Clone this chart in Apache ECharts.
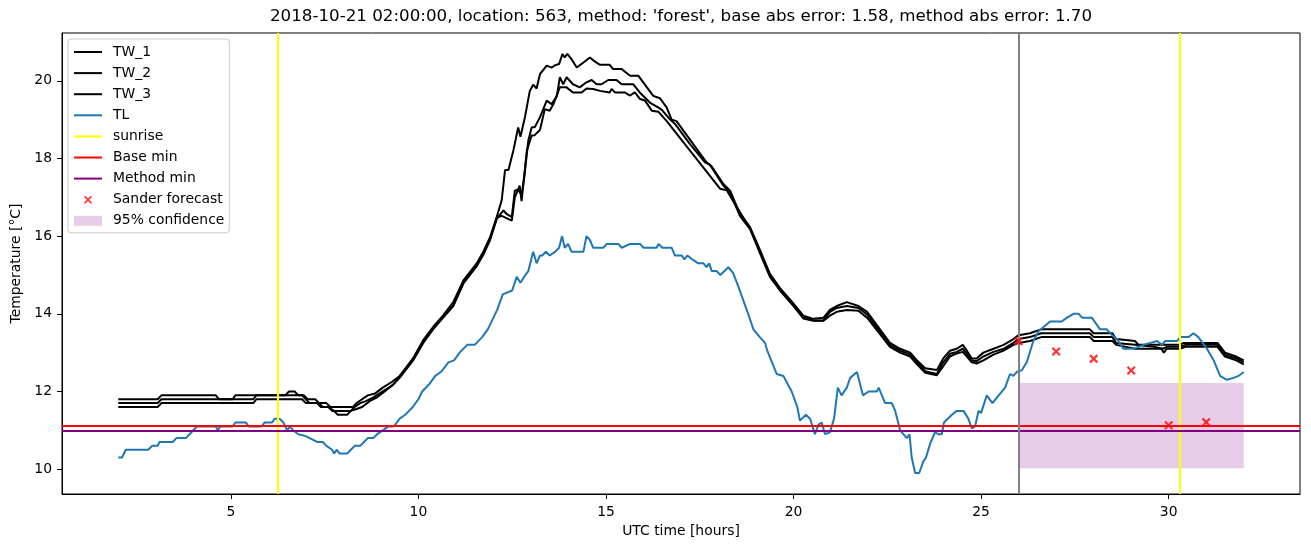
<!DOCTYPE html>
<html><head><meta charset="utf-8">
<script src="https://cdn.jsdelivr.net/npm/echarts@6/dist/echarts.min.js"></script>
<style>html,body{margin:0;padding:0;background:#fff}#c{width:1311px;height:547px}</style>
</head><body><div id="c"></div>
<script>
const TITLE = "2018-10-21 02:00:00, location: 563, method: 'forest', base abs error: 1.58, method abs error: 1.70";
const X_NAME = "UTC time [hours]";
const Y_NAME = "Temperature [°C]";
const X_TICKS = [5, 10, 15, 20, 25, 30];
const Y_TICKS = [10, 12, 14, 16, 18, 20];

const TW_1 = [[2.0,11.8],[3.05,11.8],[3.15,11.9],[4.6,11.9],[4.68,11.8],[5.05,11.8],[5.12,11.9],[6.45,11.9],[6.55,12.0],[6.7,12.0],[6.8,11.9],[6.95,11.9],[7.05,11.8],[7.25,11.8],[7.35,11.7],[7.55,11.7],[7.65,11.6],[8.25,11.6],[8.35,11.7],[8.5,11.8],[8.65,11.9],[8.85,11.95],[9.05,12.1],[9.3,12.25],[9.5,12.4],[9.7,12.65],[9.86,12.85],[10.13,13.32],[10.39,13.66],[10.66,13.96],[10.93,14.3],[11.2,14.86],[11.55,15.29],[11.73,15.6],[11.91,15.97],[12.09,16.5],[12.22,16.92],[12.31,17.7],[12.4,17.7],[12.53,18.2],[12.66,18.8],[12.72,18.56],[12.84,19.06],[12.97,19.74],[13.06,19.9],[13.15,19.8],[13.24,20.17],[13.42,20.39],[13.55,20.34],[13.64,20.4],[13.75,20.43],[13.84,20.69],[13.9,20.6],[13.97,20.69],[14.08,20.56],[14.22,20.34],[14.4,20.47],[14.57,20.6],[14.7,20.5],[14.84,20.41],[15.1,20.41],[15.19,20.3],[15.42,20.3],[15.55,20.2],[15.64,20.13],[15.86,20.13],[16.26,19.61],[16.44,19.55],[16.62,19.31],[16.75,19.0],[16.88,18.96],[17.68,17.9],[17.82,17.79],[18.13,17.34],[18.31,17.17],[18.57,16.57],[18.84,16.23],[19.11,15.63],[19.37,15.03],[19.64,14.66],[20.0,14.26],[20.26,13.95],[20.53,13.87],[20.8,13.9],[20.97,14.1],[21.15,14.2],[21.42,14.3],[21.73,14.2],[21.96,14.05],[22.57,13.25],[22.84,13.1],[23.11,13.0],[23.29,12.8],[23.51,12.6],[23.82,12.55],[23.99,12.85],[24.17,13.05],[24.35,13.1],[24.51,13.2],[24.62,13.05],[24.75,12.85],[24.88,12.85],[25.06,13.0],[25.33,13.1],[25.6,13.2],[25.86,13.35],[26.0,13.45],[26.3,13.5],[26.6,13.6],[27.9,13.6],[28.0,13.5],[28.5,13.5],[28.6,13.35],[29.1,13.3],[29.2,13.2],[30.3,13.2],[30.4,13.25],[31.3,13.25],[31.5,13.0],[31.8,12.9],[32.0,12.8]];

const TW_2 = [[2.0,11.7],[3.05,11.7],[3.15,11.8],[5.6,11.8],[5.68,11.9],[6.9,11.9],[7.0,11.8],[7.1,11.7],[7.3,11.7],[7.4,11.6],[7.6,11.6],[7.7,11.5],[8.2,11.5],[8.3,11.6],[8.45,11.7],[8.6,11.75],[8.8,11.85],[9.05,12.0],[9.3,12.15],[9.5,12.35],[9.7,12.6],[9.86,12.8],[10.13,13.25],[10.39,13.6],[10.66,13.9],[10.93,14.2],[11.2,14.78],[11.55,15.22],[11.73,15.52],[11.91,15.9],[12.09,16.45],[12.27,16.66],[12.35,16.57],[12.49,16.49],[12.57,17.17],[12.66,17.2],[12.75,17.05],[12.82,17.5],[12.93,18.46],[13.02,18.8],[13.1,18.8],[13.24,19.06],[13.42,19.49],[13.55,19.4],[13.69,19.6],[13.77,20.09],[13.86,19.91],[13.95,20.09],[14.12,19.91],[14.3,19.83],[14.48,19.96],[14.62,20.02],[14.75,19.91],[14.88,19.91],[15.06,20.02],[15.28,20.02],[15.42,19.91],[15.73,19.91],[15.9,19.7],[16.17,19.44],[16.4,19.31],[16.49,19.25],[16.71,19.0],[16.84,18.89],[17.24,18.37],[17.64,17.9],[17.77,17.84],[18.13,17.3],[18.31,17.12],[18.57,16.52],[18.84,16.18],[19.11,15.58],[19.37,14.98],[19.64,14.62],[20.0,14.22],[20.26,13.9],[20.53,13.83],[20.8,13.83],[20.97,14.05],[21.15,14.15],[21.42,14.2],[21.73,14.15],[21.96,13.98],[22.57,13.2],[22.84,13.05],[23.11,12.95],[23.29,12.75],[23.51,12.52],[23.82,12.45],[23.99,12.75],[24.17,12.97],[24.35,13.02],[24.51,13.1],[24.62,12.97],[24.75,12.8],[24.88,12.78],[25.06,12.9],[25.33,13.02],[25.6,13.1],[25.86,13.25],[26.0,13.35],[26.3,13.4],[26.6,13.5],[27.9,13.5],[28.0,13.4],[28.5,13.4],[28.6,13.25],[29.1,13.2],[29.6,13.15],[29.85,13.1],[29.95,13.15],[30.3,13.15],[30.45,13.2],[31.3,13.2],[31.5,12.95],[31.8,12.85],[32.0,12.75]];

const TW_3 = [[2.0,11.6],[3.05,11.6],[3.15,11.7],[5.6,11.7],[5.68,11.8],[6.9,11.8],[7.0,11.7],[7.35,11.7],[7.45,11.6],[7.6,11.6],[7.75,11.5],[7.85,11.4],[8.1,11.4],[8.2,11.5],[8.35,11.55],[8.5,11.6],[8.7,11.75],[8.9,11.85],[9.1,12.0],[9.35,12.2],[9.6,12.5],[9.86,12.85],[10.13,13.3],[10.39,13.62],[10.66,13.92],[10.93,14.22],[11.2,14.82],[11.55,15.25],[11.73,15.55],[11.91,15.93],[12.09,16.47],[12.22,16.52],[12.49,16.4],[12.57,17.0],[12.7,17.3],[12.75,16.9],[12.89,18.2],[13.02,18.59],[13.1,18.6],[13.24,18.73],[13.37,19.27],[13.5,19.23],[13.6,19.4],[13.77,19.83],[13.95,19.83],[14.12,19.7],[14.35,19.7],[14.48,19.8],[14.66,19.79],[14.84,19.74],[15.1,19.7],[15.15,19.79],[15.24,19.7],[15.5,19.7],[15.64,19.62],[15.77,19.7],[15.91,19.53],[16.04,19.49],[16.22,19.23],[16.4,19.2],[16.62,18.96],[17.24,18.2],[18.04,17.22],[18.22,17.18],[18.49,16.74],[18.84,16.2],[19.11,15.55],[19.37,14.95],[19.64,14.6],[20.0,14.2],[20.26,13.88],[20.53,13.82],[20.8,13.82],[20.97,13.95],[21.15,14.05],[21.42,14.1],[21.73,14.08],[21.96,13.9],[22.57,13.15],[22.84,13.0],[23.11,12.9],[23.29,12.7],[23.51,12.48],[23.82,12.42],[23.99,12.65],[24.17,12.9],[24.35,12.98],[24.51,13.02],[24.62,12.9],[24.75,12.75],[24.88,12.72],[25.06,12.8],[25.33,12.95],[25.6,13.05],[25.86,13.2],[26.0,13.25],[26.3,13.3],[26.6,13.4],[27.9,13.4],[28.0,13.3],[28.5,13.3],[28.6,13.2],[29.1,13.1],[29.8,13.1],[29.87,13.0],[29.95,13.1],[30.3,13.1],[30.45,13.15],[31.3,13.15],[31.5,12.9],[31.8,12.8],[32.0,12.7]];

const TL = [[2.0,10.3],[2.1,10.3],[2.2,10.5],[2.8,10.5],[2.9,10.6],[3.05,10.6],[3.1,10.7],[3.45,10.7],[3.55,10.8],[3.8,10.8],[3.9,10.9],[4.0,11.0],[4.1,11.1],[4.6,11.1],[4.65,11.0],[4.72,11.1],[5.05,11.1],[5.12,11.2],[5.4,11.2],[5.48,11.1],[5.82,11.1],[5.9,11.2],[6.1,11.2],[6.17,11.3],[6.3,11.3],[6.4,11.2],[6.5,11.0],[6.58,11.1],[6.66,11.0],[6.8,10.9],[7.0,10.85],[7.1,10.8],[7.3,10.7],[7.45,10.7],[7.55,10.6],[7.7,10.5],[7.75,10.4],[7.82,10.5],[7.9,10.4],[8.1,10.4],[8.2,10.5],[8.3,10.6],[8.45,10.6],[8.55,10.7],[8.65,10.8],[8.8,10.8],[8.9,10.9],[9.05,11.0],[9.2,11.1],[9.35,11.1],[9.5,11.3],[9.65,11.4],[9.75,11.5],[9.85,11.6],[10.0,11.8],[10.1,12.0],[10.3,12.2],[10.45,12.4],[10.6,12.5],[10.8,12.75],[10.95,12.8],[11.1,13.0],[11.3,13.2],[11.5,13.2],[11.7,13.4],[11.85,13.6],[12.0,13.9],[12.1,14.1],[12.25,14.5],[12.5,14.6],[12.62,14.95],[12.72,14.8],[12.85,15.0],[12.93,15.1],[13.06,15.6],[13.15,15.3],[13.24,15.5],[13.3,15.5],[13.4,15.6],[13.5,15.5],[13.65,15.6],[13.75,15.7],[13.83,16.0],[13.9,15.7],[13.99,15.8],[14.08,15.6],[14.4,15.6],[14.48,16.0],[14.57,15.9],[14.66,15.7],[14.93,15.7],[15.02,15.8],[15.33,15.8],[15.42,15.7],[15.64,15.8],[15.91,15.8],[16.0,15.7],[16.35,15.7],[16.4,15.8],[16.5,15.7],[16.75,15.7],[16.84,15.5],[17.02,15.5],[17.09,15.4],[17.17,15.5],[17.3,15.4],[17.46,15.3],[17.6,15.3],[17.68,15.2],[17.75,15.3],[17.82,15.1],[17.95,15.1],[18.05,15.0],[18.26,15.2],[18.39,15.05],[18.53,14.7],[18.79,14.0],[18.93,13.6],[19.1,13.4],[19.24,13.25],[19.3,13.05],[19.55,12.45],[19.73,12.4],[19.95,12.0],[20.1,11.6],[20.17,11.25],[20.33,11.4],[20.44,11.3],[20.57,10.9],[20.67,11.15],[20.75,11.2],[20.84,10.9],[20.97,10.95],[21.08,11.3],[21.18,12.1],[21.28,11.9],[21.42,12.1],[21.51,12.35],[21.69,12.5],[21.85,11.9],[22.0,12.0],[22.22,12.0],[22.27,12.1],[22.44,11.7],[22.62,11.7],[22.71,11.5],[22.84,11.0],[23.02,10.8],[23.09,10.9],[23.15,10.3],[23.24,9.9],[23.35,9.9],[23.46,10.2],[23.53,10.3],[23.64,10.65],[23.77,10.95],[23.86,10.9],[23.95,10.9],[24.01,11.2],[24.22,11.4],[24.35,11.5],[24.53,11.5],[24.66,11.3],[24.75,11.05],[24.84,11.1],[24.93,11.5],[25.0,11.45],[25.15,11.9],[25.3,11.7],[25.64,12.1],[25.69,12.1],[25.77,12.45],[25.86,12.4],[25.95,12.5],[26.09,12.55],[26.22,12.76],[26.39,13.3],[26.53,13.55],[26.84,13.8],[27.15,13.8],[27.29,13.9],[27.46,14.0],[27.6,14.0],[27.69,13.9],[27.95,13.9],[28.17,13.6],[28.35,13.6],[28.49,13.45],[28.62,13.35],[28.79,13.1],[29.06,13.1],[29.33,13.2],[29.69,13.3],[29.82,13.2],[29.91,13.3],[30.22,13.3],[30.31,13.4],[30.53,13.4],[30.66,13.5],[30.79,13.4],[31.02,13.1],[31.2,12.8],[31.37,12.4],[31.55,12.3],[31.73,12.35],[31.86,12.4],[32.0,12.5]];

const SUNRISE = [6.26, 30.3];
const BASE_MIN = 11.12;
const METHOD_MIN = 11.0;
const FORECAST_START = 26;
const SANDER = [[26,13.29],[27,13.03],[28,12.84],[29,12.54],[30,11.13],[31,11.21]];
const CONF_X = [26, 32];
const CONF_Y = [10.02, 12.22];

const FONT = 'DejaVu Sans';
const LINE_ICON = 'path://M0,0 M28,10 M0,4 L28,4 L28,6 L0,6 Z';
const X_ICON = 'path://M0,0 M28,10 M10,2.2 L11.2,1 L14,3.8 L16.8,1 L18,2.2 L15.2,5 L18,7.8 L16.8,9 L14,6.2 L11.2,9 L10,7.8 L12.8,5 Z';
const RECT_ICON = 'path://M0,0 L28,0 L28,10 L0,10 Z';
const X_SYMBOL = 'path://M0,1.2 L1.2,0 L3.5,2.3 L5.8,0 L7,1.2 L4.7,3.5 L7,5.8 L5.8,7 L3.5,4.7 L1.2,7 L0,5.8 L2.3,3.5 Z';

const chart = echarts.init(document.getElementById('c'), null, {renderer: 'canvas'});

function vline(x, color) { return {xAxis: x, lineStyle: {color: color, width: 2, type: 'solid'}}; }
function hline(y, color) { return {yAxis: y, lineStyle: {color: color, width: 2, type: 'solid'}}; }
const mlBase = {symbol: ['none','none'], silent: true, label: {show: false}, animation: false};

const option = {
  animation: false,
  backgroundColor: '#fff',
  textStyle: {fontFamily: FONT},
  grid: {left: 62, right: 11, top: 33, bottom: 53, show: true, borderColor: '#000', borderWidth: 1,
         backgroundColor: 'transparent', containLabel: false, outerBoundsMode: 'none'},
  graphic: [{type: 'text', x: 681, y: 17, style: {text: TITLE, fontFamily: FONT, fontSize: 16.7, fill: '#000', textAlign: 'center', textVerticalAlign: 'middle'}}],
  xAxis: {
    type: 'value', min: 0.5, max: 33.5,
    name: X_NAME, nameLocation: 'middle', nameGap: 28,
    nameTextStyle: {fontFamily: FONT, fontSize: 13.9, color: '#000'},
    axisLine: {show: true, onZero: false, lineStyle: {color: '#000', width: 1}},
    axisTick: {show: true, length: 5, lineStyle: {color: '#000'}, customValues: X_TICKS},
    axisLabel: {fontFamily: FONT, fontSize: 13.9, color: '#000', margin: 11, customValues: X_TICKS},
    splitLine: {show: false}
  },
  yAxis: {
    type: 'value', min: 9.36, max: 21.23,
    name: Y_NAME, nameLocation: 'middle', nameGap: 37, nameRotate: 90,
    nameTextStyle: {fontFamily: FONT, fontSize: 13.9, color: '#000'},
    axisLine: {show: true, onZero: false, lineStyle: {color: '#000', width: 1}},
    axisTick: {show: true, length: 5, lineStyle: {color: '#000'}, customValues: Y_TICKS},
    axisLabel: {fontFamily: FONT, fontSize: 13.9, color: '#000', margin: 10, customValues: Y_TICKS},
    splitLine: {show: false}
  },
  legend: {
    orient: 'vertical', left: 68, top: 39, padding: [6, 5, 5, 6],
    itemWidth: 28, itemHeight: 10, itemGap: 7.1, selectedMode: false,
    backgroundColor: 'rgba(255,255,255,0.8)', borderColor: '#cccccc', borderWidth: 1, borderRadius: 3,
    textStyle: {fontFamily: FONT, fontSize: 13.9, color: '#000', padding: [0, 0, 0, 6]},
    itemStyle: {borderWidth: 0},
    data: [
      {name: 'TW_1', icon: LINE_ICON, itemStyle: {color: '#000'}},
      {name: 'TW_2', icon: LINE_ICON, itemStyle: {color: '#000'}},
      {name: 'TW_3', icon: LINE_ICON, itemStyle: {color: '#000'}},
      {name: 'TL', icon: LINE_ICON, itemStyle: {color: '#1f77b4'}},
      {name: 'sunrise', icon: LINE_ICON, itemStyle: {color: '#ffff00'}},
      {name: 'Base min', icon: LINE_ICON, itemStyle: {color: '#ff0000'}},
      {name: 'Method min', icon: LINE_ICON, itemStyle: {color: '#800080'}},
      {name: 'Sander forecast', icon: X_ICON, itemStyle: {color: '#ff0000'}},
      {name: '95% confidence', icon: RECT_ICON, itemStyle: {color: 'rgba(128,0,128,0.2)'}}
    ]
  },
  series: [
    {name: '95% confidence', type: 'line', data: [], z: 1, color: 'rgba(128,0,128,0.2)',
     markArea: {silent: true, z: 1, itemStyle: {color: 'rgba(128,0,128,0.2)', borderWidth: 0},
       data: [[{xAxis: CONF_X[0], yAxis: CONF_Y[0]}, {xAxis: CONF_X[1], yAxis: CONF_Y[1]}]]}},
    {name: 'TW_1', type: 'line', data: TW_1, z: 3, color: '#000', showSymbol: false, symbol: 'none', lineStyle: {color: '#000', width: 2}},
    {name: 'TW_2', type: 'line', data: TW_2, z: 3, color: '#000', showSymbol: false, symbol: 'none', lineStyle: {color: '#000', width: 2}},
    {name: 'TW_3', type: 'line', data: TW_3, z: 3, color: '#000', showSymbol: false, symbol: 'none', lineStyle: {color: '#000', width: 2}},
    {name: 'TL', type: 'line', data: TL, z: 4, color: '#1f77b4', showSymbol: false, symbol: 'none', lineStyle: {color: '#1f77b4', width: 2}},
    {name: 'sunrise', type: 'line', data: [], z: 5, color: '#ffff00',
     markLine: Object.assign({}, mlBase, {z: 5, data: SUNRISE.map(x => vline(x, '#ffff00'))})},
    {name: 'Base min', type: 'line', data: [], z: 5, color: '#ff0000',
     markLine: Object.assign({}, mlBase, {z: 5, data: [hline(BASE_MIN, '#ff0000')]})},
    {name: 'Method min', type: 'line', data: [], z: 5, color: '#800080',
     markLine: Object.assign({}, mlBase, {z: 5, data: [hline(METHOD_MIN, '#800080')]})},
    {name: 'forecast start', type: 'line', data: [], z: 5, color: '#808080',
     markLine: Object.assign({}, mlBase, {z: 5, data: [vline(FORECAST_START, '#808080')]})},
    {name: 'Sander forecast', type: 'scatter', data: SANDER, z: 6, symbol: X_SYMBOL, symbolSize: 9,
     itemStyle: {color: '#ff0000'}}
  ]
};
chart.setOption(option);
</script></body></html>
